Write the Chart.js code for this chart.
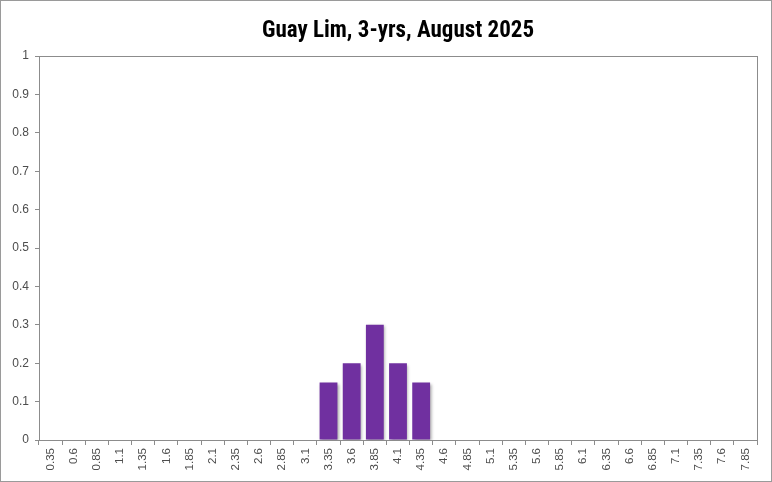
<!DOCTYPE html>
<html>
<head>
<meta charset="utf-8">
<script src="https://cdn.jsdelivr.net/npm/chart.js@4"></script>
<style>
  html, body { margin: 0; padding: 0; background: #fff; }
  canvas { display: block; }
</style>
</head>
<body>
<canvas id="chart" width="772" height="482"></canvas>
<script>
// Guay Lim, 3-yrs, August 2025 — probability by bin
const chartTitle = 'Guay Lim, 3-yrs, August 2025';
const categories = ['0.35', '0.6', '0.85', '1.1', '1.35', '1.6', '1.85', '2.1', '2.35', '2.6',
  '2.85', '3.1', '3.35', '3.6', '3.85', '4.1', '4.35', '4.6', '4.85', '5.1', '5.35', '5.6',
  '5.85', '6.1', '6.35', '6.6', '6.85', '7.1', '7.35', '7.6', '7.85'];
const values = [0, 0, 0, 0, 0, 0, 0, 0, 0, 0,
  0, 0, 0.15, 0.2, 0.3, 0.2, 0.15, 0, 0, 0, 0, 0,
  0, 0, 0, 0, 0, 0, 0, 0, 0];

const axisGray = '#8c8c8c';
const labelGray = '#4d4d4d';

/** frame around the plot, outer border and the title */
const framePlugin = {
  id: 'frame',
  beforeDatasetsDraw(chart) {
    const ctx = chart.ctx;
    ctx.save();
    ctx.shadowColor = 'rgba(0,0,0,0.35)';
    ctx.shadowBlur = 3;
    ctx.shadowOffsetX = 1.5;
    ctx.shadowOffsetY = 1.5;
  },
  afterDatasetsDraw(chart) {
    chart.ctx.restore();
  },
  afterDraw(chart) {
    const { ctx, chartArea: a } = chart;
    ctx.save();
    ctx.strokeStyle = axisGray;
    ctx.lineWidth = 1;
    ctx.strokeRect(Math.round(a.left) + 0.5, Math.round(a.top) + 0.5,
      Math.round(a.right - a.left), Math.round(a.bottom - a.top));
    ctx.strokeStyle = '#9a9a9a';
    ctx.strokeRect(0.5, 0.5, chart.width - 1, chart.height - 1);
    ctx.fillStyle = '#000';
    ctx.font = 'bold 23px "Liberation Sans Narrow", "Roboto Condensed", "DejaVu Sans Condensed", sans-serif';
    ctx.textAlign = 'center';
    ctx.textBaseline = 'middle';
    ctx.fillText(chartTitle, (a.left + a.right) / 2, 31);
    ctx.restore();
  }
};

new Chart(document.getElementById('chart'), {
  type: 'bar',
  data: {
    labels: categories,
    datasets: [{
      data: values,
      backgroundColor: '#7030A0',
      borderWidth: 0,
      barPercentage: 0.77,
      categoryPercentage: 1
    }]
  },
  options: {
    responsive: false,
    animation: false,
    layout: { padding: { left: 0, right: 15, top: 56, bottom: 0 } },
    plugins: {
      legend: { display: false },
      tooltip: { enabled: false },
      title: { display: false }
    },
    scales: {
      x: {
        offset: true,
        grid: { offset: true, drawOnChartArea: false, drawTicks: true, tickLength: 5, color: axisGray },
        border: { color: axisGray },
        ticks: {
          color: labelGray,
          font: { family: '"Liberation Sans", Arial, sans-serif', size: 11.5 },
          minRotation: 90,
          maxRotation: 90,
          autoSkip: false,
          padding: 3
        },
        afterFit(scale) { scale.height = 42; }
      },
      y: {
        min: 0,
        max: 1,
        grid: { drawOnChartArea: false, drawTicks: true, tickLength: 4, color: axisGray },
        border: { color: axisGray },
        ticks: {
          stepSize: 0.1,
          color: labelGray,
          font: { family: '"Liberation Sans", Arial, sans-serif', size: 12 },
          padding: 6,
          callback: v => Math.round(v * 10) / 10
        },
        afterFit(scale) { scale.width = 39; }
      }
    }
  },
  plugins: [framePlugin]
});
</script>
</body>
</html>
